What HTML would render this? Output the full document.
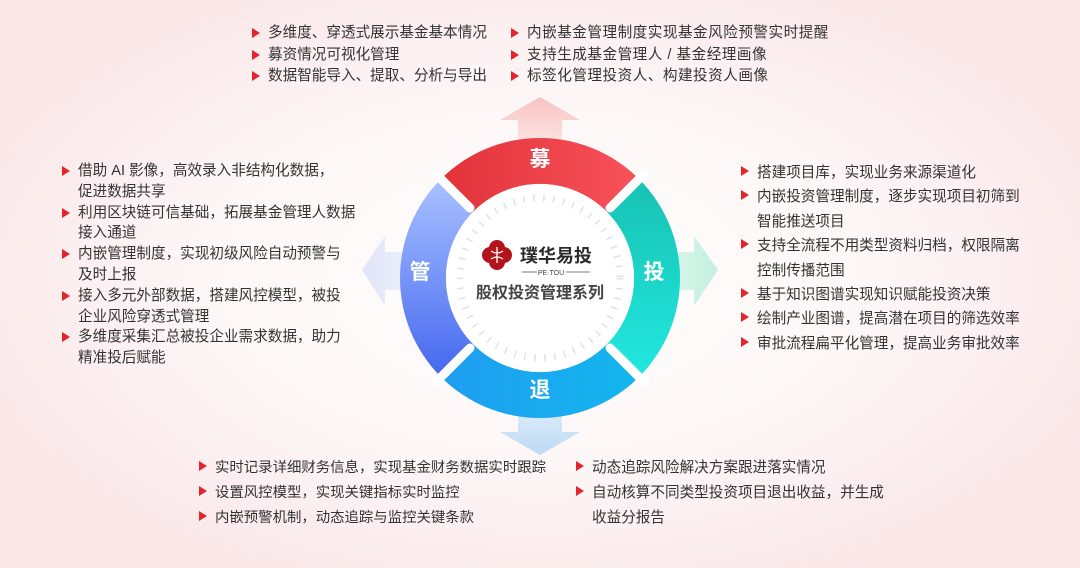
<!DOCTYPE html>
<html><head><meta charset="utf-8"><style>
html,body{margin:0;padding:0;width:1080px;height:568px;overflow:hidden}
body{background:radial-gradient(ellipse 620px 340px at 540px 280px,#ffffff 0%,#fdf6f6 55%,#fae6e7 100%);font-family:"Liberation Sans","Noto Sans CJK SC",sans-serif;position:relative}
.t{position:absolute;font-size:14.6px;color:#333;line-height:20px;white-space:nowrap}
.t .b{position:absolute;left:-16px;top:5px;width:0;height:0;border-left:8px solid #e2252c;border-top:5px solid transparent;border-bottom:5px solid transparent}
svg{position:absolute;left:0;top:0}
</style></head><body>
<svg width="1080" height="568" viewBox="0 0 1080 568">
<defs>
<linearGradient id="gr" x1="0" y1="0" x2="1" y2="0"><stop offset="0" stop-color="#e2323a"/><stop offset="1" stop-color="#f7525a"/></linearGradient>
<linearGradient id="gt" x1="0" y1="0" x2="0" y2="1"><stop offset="0" stop-color="#17c2b2"/><stop offset="1" stop-color="#22e8e0"/></linearGradient>
<linearGradient id="gb" x1="0" y1="0" x2="1" y2="0"><stop offset="0" stop-color="#1e9df0"/><stop offset="1" stop-color="#14b6ee"/></linearGradient>
<linearGradient id="gl" x1="0" y1="0" x2="0" y2="1"><stop offset="0" stop-color="#a9c2ff"/><stop offset="1" stop-color="#4467f0"/></linearGradient>
<linearGradient id="au" x1="0" y1="0" x2="0" y2="1"><stop offset="0" stop-color="#f8c2c2"/><stop offset="1" stop-color="#fde4e4"/></linearGradient>
<linearGradient id="ar" x1="0" y1="0" x2="1" y2="0"><stop offset="0" stop-color="#d8f5ea"/><stop offset="1" stop-color="#c4f0df"/></linearGradient>
<linearGradient id="ad" x1="0" y1="0" x2="0" y2="1"><stop offset="0" stop-color="#e0eefa"/><stop offset="1" stop-color="#bcdaf4"/></linearGradient>
<linearGradient id="al" x1="1" y1="0" x2="0" y2="0"><stop offset="0" stop-color="#eef0fb"/><stop offset="1" stop-color="#dfe4f8"/></linearGradient>
</defs>
<polygon points="540,97 580,120 562,120 562,145 518,145 518,120 500,120" fill="url(#au)"/>
<polygon points="718,270 694,236 694,252 670,252 670,290 694,290 694,306" fill="url(#ar)"/>
<polygon points="540,455 580,432 562,432 562,405 518,405 518,432 500,432" fill="url(#ad)"/>
<polygon points="362,270 385,236 385,252 410,252 410,290 385,290 385,306" fill="url(#al)"/>
<path d="M441,179 A140,140 0 0 1 639,179 L606.5,211.5 A94,94 0 0 0 473.5,211.5 Z" fill="url(#gr)"/>
<path d="M639,179 A140,140 0 0 1 639,377 L606.5,344.5 A94,94 0 0 0 606.5,211.5 Z" fill="url(#gt)"/>
<path d="M639,377 A140,140 0 0 1 441,377 L473.5,344.5 A94,94 0 0 0 606.5,344.5 Z" fill="url(#gb)"/>
<path d="M441,377 A140,140 0 0 1 441,179 L473.5,211.5 A94,94 0 0 0 473.5,344.5 Z" fill="url(#gl)"/>
<circle cx="540" cy="278" r="94" fill="#fff"/>
<g stroke="#fff" stroke-width="9" stroke-linecap="round">
<line x1="470" y1="208" x2="436" y2="174"/><line x1="610" y1="208" x2="644" y2="174"/>
<line x1="610" y1="348" x2="644" y2="382"/><line x1="470" y1="348" x2="436" y2="382"/>
</g>
<circle cx="540" cy="278" r="80" fill="none" stroke="#dfe2ec" stroke-width="7" stroke-dasharray="1.5 8.5"/>
<g fill="#fff" font-size="21" font-weight="bold" text-anchor="middle" font-family="Liberation Sans,Noto Sans CJK SC,sans-serif">
<text x="540" y="166">募</text><text x="654" y="279">投</text><text x="540" y="397">退</text><text x="420" y="279">管</text>
</g>
<g transform="translate(497,255)">
<circle cx="0" cy="-7" r="8" fill="#b3141c"/><circle cx="0" cy="7" r="8" fill="#b3141c"/>
<circle cx="-7" cy="0" r="8" fill="#b3141c"/><circle cx="7" cy="0" r="8" fill="#b3141c"/>
<path d="M-6,-4 q6,4 12,0 M-6,4 q6,-4 12,0 M0,-8 v16" stroke="#fff" stroke-width="1.3" fill="none"/>
</g>
<text x="520" y="262" font-size="18" font-weight="bold" fill="#2b2b2b" font-family="Liberation Sans,Noto Sans CJK SC,sans-serif">璞华易投</text>
<line x1="522" y1="272" x2="537" y2="272" stroke="#555" stroke-width="0.8"/>
<line x1="566" y1="272" x2="590" y2="272" stroke="#555" stroke-width="0.8"/>
<text x="551" y="275" font-size="7" fill="#444" text-anchor="middle" font-family="Liberation Sans,sans-serif">PE·TOU</text>
<text x="540" y="298" font-size="16" font-weight="bold" fill="#444" text-anchor="middle" font-family="Liberation Sans,Noto Sans CJK SC,sans-serif">股权投资管理系列</text>
</svg>

<div class="t" style="left:268px;top:23px;line-height:21.5px">
<div style="position:relative"><span class="b"></span>多维度、穿透式展示基金基本情况</div>
<div style="position:relative"><span class="b"></span>募资情况可视化管理</div>
<div style="position:relative"><span class="b"></span>数据智能导入、提取、分析与导出</div>
</div>
<div class="t" style="left:527px;top:23px;line-height:21.5px;letter-spacing:0.5px">
<div style="position:relative"><span class="b"></span>内嵌基金管理制度实现基金风险预警实时提醒</div>
<div style="position:relative"><span class="b"></span>支持生成基金管理人 / 基金经理画像</div>
<div style="position:relative"><span class="b"></span>标签化管理投资人、构建投资人画像</div>
</div>
<div class="t" style="left:78px;top:161px;line-height:20.8px">
<div style="position:relative"><span class="b"></span>借助 AI 影像，高效录入非结构化数据，<br>促进数据共享</div>
<div style="position:relative"><span class="b"></span>利用区块链可信基础，拓展基金管理人数据<br>接入通道</div>
<div style="position:relative"><span class="b"></span>内嵌管理制度，实现初级风险自动预警与<br>及时上报</div>
<div style="position:relative"><span class="b"></span>接入多元外部数据，搭建风控模型，被投<br>企业风险穿透式管理</div>
<div style="position:relative"><span class="b"></span>多维度采集汇总被投企业需求数据，助力<br>精准投后赋能</div>
</div>
<div class="t" style="left:757px;top:161px;line-height:24.4px">
<div style="position:relative"><span class="b"></span>搭建项目库，实现业务来源渠道化</div>
<div style="position:relative"><span class="b"></span>内嵌投资管理制度，逐步实现项目初筛到<br>智能推送项目</div>
<div style="position:relative"><span class="b"></span>支持全流程不用类型资料归档，权限隔离<br>控制传播范围</div>
<div style="position:relative"><span class="b"></span>基于知识图谱实现知识赋能投资决策</div>
<div style="position:relative"><span class="b"></span>绘制产业图谱，提高潜在项目的筛选效率</div>
<div style="position:relative"><span class="b"></span>审批流程扁平化管理，提高业务审批效率</div>
</div>
<div class="t" style="left:215px;top:456px;line-height:25px;font-size:14.4px">
<div style="position:relative"><span class="b"></span>实时记录详细财务信息，实现基金财务数据实时跟踪</div>
<div style="position:relative"><span class="b"></span>设置风控模型，实现关键指标实时监控</div>
<div style="position:relative"><span class="b"></span>内嵌预警机制，动态追踪与监控关键条款</div>
</div>
<div class="t" style="left:592px;top:456px;line-height:25px">
<div style="position:relative"><span class="b"></span>动态追踪风险解决方案跟进落实情况</div>
<div style="position:relative"><span class="b"></span>自动核算不同类型投资项目退出收益，并生成<br>收益分报告</div>
</div>
</body></html>
